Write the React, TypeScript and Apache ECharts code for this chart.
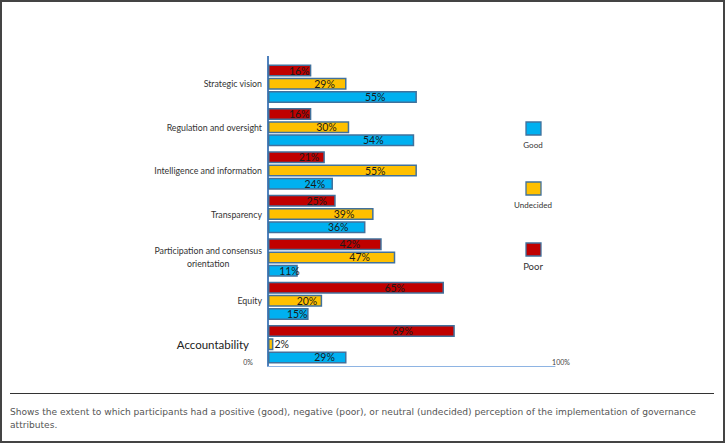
import React, { useEffect, useRef } from "react";
import * as echarts from "echarts";

const categories = [
  "Strategic vision",
  "Regulation and oversight",
  "Intelligence and information",
  "Transparency",
  "Participation and consensus orientation",
  "Equity",
  "Accountability",
];
const poor = [16, 16, 21, 25, 42, 65, 69];
const undecided = [29, 30, 55, 39, 47, 20, 2];
const good = [55, 54, 24, 36, 11, 15, 29];
const tickLabels = ["0%", "100%"];
const legendNames = ["Good", "Undecided", "Poor"];
const caption =
  "Shows the extent to which participants had a positive (good), negative (poor), or neutral (undecided) perception of the implementation of governance\nattributes.";

const COLORS: Record<string, string> = {
  Good: "#00b0f0",
  Undecided: "#ffc000",
  Poor: "#c00000",
};

export default function App() {
  const ref = useRef<HTMLDivElement>(null);
  useEffect(() => {
    if (!ref.current) return;
    const chart = echarts.init(ref.current, undefined, { renderer: "svg" });
    const cats = [...categories].reverse();
    const rev = (a: number[]) => [...a].reverse();
    const mkData = (vals: number[]) =>
      rev(vals).map((v) =>
        v < 5
          ? { value: v, label: { position: "right", distance: 1, align: "left" } }
          : { value: v }
      );
    const mkSeries = (name: string, vals: number[]) => ({
      name,
      type: "bar",
      data: mkData(vals),
      barWidth: 12,
      barGap: "10%",
      itemStyle: { color: COLORS[name], borderColor: "#41719c", borderWidth: 1.5 },
      label: {
        show: true,
        position: ["72%", "50%"],
        align: "center",
        verticalAlign: "middle",
        formatter: "{c}%",
        fontFamily: "Lato",
        fontSize: 10.5,
        color: "#1a1a1a",
      },
    });
    const legendY = [129, 189, 250];
    const graphics: any[] = [];
    legendNames.forEach((n, i) => {
      graphics.push({
        type: "rect",
        shape: { x: 526, y: legendY[i] - 7, width: 15, height: 13 },
        style: { fill: COLORS[n], stroke: "#41719c", lineWidth: 1.3 },
      });
      graphics.push({
        type: "text",
        x: 533,
        y: legendY[i] + 16,
        style: {
          text: n,
          fontFamily: "Lato",
          fontSize: n === "Poor" ? 9.5 : 8,
          fill: "#333",
          align: "center",
          verticalAlign: "middle",
        },
      });
    });
    graphics.push({
      type: "text",
      x: 248,
      y: 362,
      style: { text: tickLabels[0], fontFamily: "Lato", fontSize: 7, fill: "#444", align: "center", verticalAlign: "middle" },
    });
    graphics.push({
      type: "text",
      x: 561,
      y: 362,
      style: { text: tickLabels[1], fontFamily: "Lato", fontSize: 7, fill: "#444", align: "center", verticalAlign: "middle" },
    });
    graphics.push({
      type: "line",
      shape: { x1: 268, y1: 56, x2: 268, y2: 63 },
      style: { stroke: "#4f81bd", lineWidth: 2 },
    });
    graphics.push({
      type: "line",
      shape: { x1: 10, y1: 393.5, x2: 714, y2: 393.5 },
      style: { stroke: "#333", lineWidth: 1 },
    });
    graphics.push({
      type: "text",
      x: 10,
      y: 405,
      style: {
        text: caption,
        fontFamily: "DejaVu Sans",
        fontSize: 9.1,
        lineHeight: 13,
        fill: "#555",
      },
    });
    graphics.push({
      type: "rect",
      shape: { x: 1, y: 1, width: 723, height: 441 },
      style: { fill: "none", stroke: "#444", lineWidth: 2 },
    });

    chart.setOption({
      animation: false,
      grid: { left: 268, right: 170, top: 62, bottom: 77, containLabel: false },
      xAxis: {
        type: "value",
        min: 0,
        max: 106,
        axisLabel: { show: false },
        splitLine: { show: false },
        axisTick: { show: false },
        axisLine: { show: true, lineStyle: { color: "#8eb4e3", width: 1 } },
      },
      yAxis: {
        type: "category",
        data: cats.map((c) =>
          c === "Accountability"
            ? { value: c, textStyle: { fontSize: 11.5, color: "#222", padding: [0, 13, 0, 0] } }
            : { value: c }
        ),
        axisTick: { show: false },
        axisLine: { show: true, lineStyle: { color: "#4f81bd", width: 2 } },
        axisLabel: {
          margin: 6,
          fontFamily: "Lato",
          fontSize: 8.8,
          color: "#333",
          formatter: (v: string) =>
            v === "Participation and consensus orientation"
              ? "{c|Participation and consensus}\n{c|orientation}"
              : v,
          rich: { c: { align: "center", fontFamily: "Lato", fontSize: 8.8, color: "#333", lineHeight: 13 } },
        },
      },
      series: [mkSeries("Poor", poor), mkSeries("Undecided", undecided), mkSeries("Good", good)],
      graphic: graphics,
    });
    return () => chart.dispose();
  }, []);
  return (
    <div
      ref={ref}
      style={{ position: "fixed", left: 0, top: 0, width: 725, height: 443, background: "#fff" }}
    />
  );
}
